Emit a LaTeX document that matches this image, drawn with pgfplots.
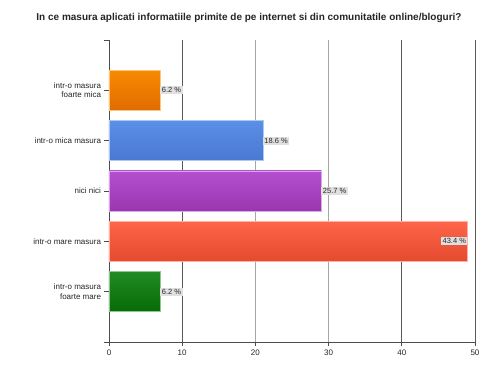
\documentclass[border=0pt]{standalone}
\usepackage{pgfplots}
\pgfplotsset{compat=1.18}
\usepackage{fontspec}
\setmainfont{Liberation Sans}
\definecolor{oT}{HTML}{F88A00}\definecolor{oM}{HTML}{EE7A00}\definecolor{oB}{HTML}{E06C00}
\definecolor{bT}{HTML}{5B8FE8}\definecolor{bM}{HTML}{5585DD}\definecolor{bB}{HTML}{4A78D0}
\definecolor{pT}{HTML}{B450D0}\definecolor{pM}{HTML}{A540BA}\definecolor{pB}{HTML}{9A36AE}
\definecolor{rT}{HTML}{FF6548}\definecolor{rM}{HTML}{F55A3E}\definecolor{rB}{HTML}{E44A2E}
\definecolor{gT}{HTML}{228B22}\definecolor{gM}{HTML}{167F16}\definecolor{gB}{HTML}{076B07}
\begin{document}
\begin{tikzpicture}
\path[use as bounding box, fill=white] (0pt,0pt) rectangle (499pt,374pt);
\node[font=\bfseries\fontsize{10}{12}\selectfont, text=black!85] at (249pt,356pt)
  {In ce masura aplicati informatiile primite de pe internet si din comunitatile online/bloguri?};
\begin{axis}[
  at={(109pt,32pt)}, anchor=south west,
  scale only axis, width=366pt, height=302pt,
  xmin=0, xmax=50, ymin=0, ymax=6, y dir=reverse,
  xbar, bar width=40pt,
  every axis plot/.append style={bar shift=0pt},
  axis lines*=left,
  axis line style={draw=black!70, line width=0.8pt},
  xtick={0,10,40,50},
  extra x ticks={20,30},
  extra x tick style={major grid style={draw=black!35, line width=1pt}},
  xmajorgrids,
  major grid style={draw=black!65, line width=0.8pt},
  ytick={0,1,2,3,4,5,6},
  yticklabels={,{intr-o masura\\foarte mica},intr-o mica masura,nici nici,intr-o mare masura,{intr-o masura\\foarte mare},},
  yticklabel style={align=right, font=\fontsize{8}{9.5}\selectfont, text=black!85},
  xticklabel style={font=\fontsize{8}{9.5}\selectfont, text=black!85},
  /pgf/number format/assume math mode=true,
  tick align=outside,
  major tick length=4.5pt,
  tick style={draw=black!70, line width=0.8pt},
  point meta=explicit symbolic,
  nodes near coords,
  every node near coord/.append style={anchor=west, fill=black!12, inner sep=1.5pt, font=\fontsize{7.5}{8.5}\selectfont, text=black!85},
]
\addplot[draw=oT!50!white, top color=oT, middle color=oM, bottom color=oB] coordinates {(7,1) [6.2 \%]};
\addplot[draw=bT!50!white, top color=bT, middle color=bM, bottom color=bB] coordinates {(21,2) [18.6 \%]};
\addplot[draw=pT!50!white, top color=pT, middle color=pM, bottom color=pB] coordinates {(29,3) [25.7 \%]};
\addplot[draw=rT!50!white, top color=rT, middle color=rM, bottom color=rB,
  every node near coord/.append style={anchor=east}] coordinates {(49,4) [43.4 \%]};
\addplot[draw=gT!50!white, top color=gT, middle color=gM, bottom color=gB] coordinates {(7,5) [6.2 \%]};
\end{axis}
\end{tikzpicture}
\end{document}
